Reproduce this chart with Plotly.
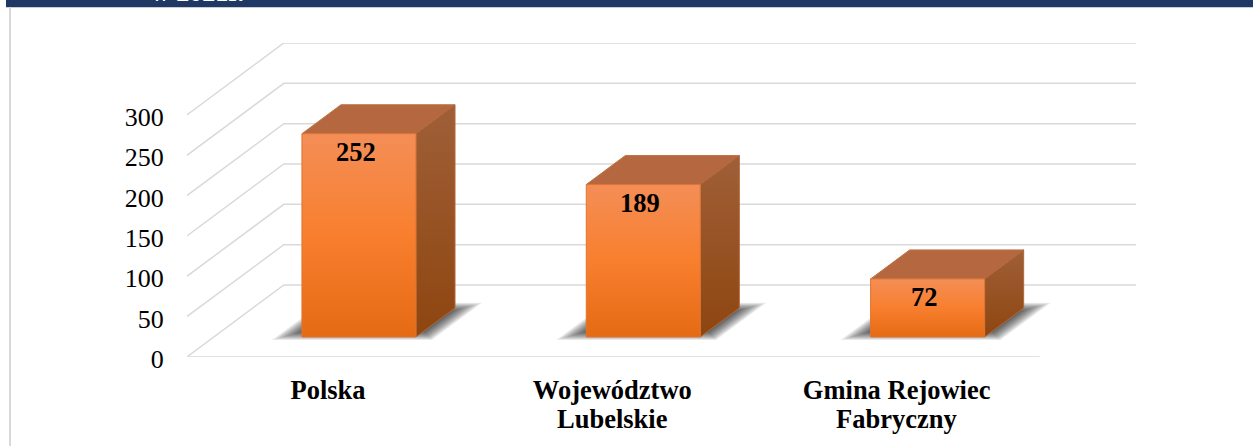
import plotly.graph_objects as go

category_first_lines = ["Polska", "Województwo", "Gmina Rejowiec"]
category_second_lines = ["", "Lubelskie", "Fabryczny"]
values = [252, 189, 72]
tick_values = [0, 50, 100, 150, 200, 250, 300]

W, H = 1253, 446
L, R, T, B = 187, 117, 43, 89
UX = 284.33          # px per category
UY = 314 / 389.2     # px per value unit
DX = 97 / UX         # full depth in x-units
DY = 72 / UY         # full depth in value units
FONT = "Liberation Serif"
GRID = "#D9D9D9"


def proj(cat, val, d, px=0.0):
    return cat + d * DX + px / UX, val + d * DY


def poly(points):
    xs, ys = [], []
    for p in points + points[:1]:
        x, y = proj(*p)
        xs.append(x)
        ys.append(y)
    return xs, ys


fig = go.Figure()

# walls / gridlines
for v in tick_values:
    x0, y0 = proj(-0.5, v, 0)
    x1, y1 = proj(-0.5, v, 1)
    x2, y2 = proj(2.5, v, 1)
    fig.add_trace(go.Scatter(x=[x0, x1, x2], y=[y0, y1, y2], mode="lines", cliponaxis=False,
                             line=dict(color=GRID, width=1.5), hoverinfo="skip", showlegend=False))
x0, y0 = proj(-0.5, 0, 0)
x1, y1 = proj(2.5, 0, 0)
fig.add_trace(go.Scatter(x=[x0, x1], y=[y0, y1], mode="lines", cliponaxis=False,
                         line=dict(color=GRID, width=1.5), hoverinfo="skip", showlegend=False))

D0, D1 = 20 / 72, 49 / 72
BL, BR = -54, 60

for i, v in enumerate(values):
    # blurred floor shadow
    n = 16
    for k in range(n):
        ins = k * 1.7
        dins = k * 0.75 / 72
        xs, ys = poly([
            (i, 0, 0.235 + dins, -80 + ins),
            (i, 0, 0.235 + dins, 80 - ins),
            (i, 0, 0.755 - dins, 80 - ins),
            (i, 0, 0.755 - dins, -80 + ins),
        ])
        fig.add_trace(go.Scatter(x=xs, y=ys, mode="lines", fill="toself", line=dict(width=0),
                                 fillcolor="rgba(0,0,0,0.075)", hoverinfo="skip", showlegend=False))
    # top face
    xs, ys = poly([(i, v, D0, BL), (i, v, D0, BR), (i, v, D1, BR), (i, v, D1, BL)])
    fig.add_trace(go.Scatter(x=xs, y=ys, mode="lines", fill="toself", fillcolor="#B5683F",
                             line=dict(color="#C07248", width=1), hoverinfo="skip", showlegend=False))
    # side face
    xs, ys = poly([(i, 0, D0, BR), (i, 0, D1, BR), (i, v, D1, BR), (i, v, D0, BR)])
    fig.add_trace(go.Scatter(x=xs, y=ys, mode="lines", fill="toself",
                             fillgradient=dict(type="vertical",
                                               colorscale=[[0, "#8E4610"], [1, "#A05F38"]]),
                             line=dict(color="#B0683A", width=1), hoverinfo="skip", showlegend=False))
    # front face
    xs, ys = poly([(i, 0, D0, BL), (i, 0, D0, BR), (i, v, D0, BR), (i, v, D0, BL)])
    fig.add_trace(go.Scatter(x=xs, y=ys, mode="lines", fill="toself",
                             fillgradient=dict(type="vertical",
                                               colorscale=[[0, "#E56A14"], [0.5, "#F87F2E"], [1, "#F48E57"]]),
                             line=dict(color="#DD7434", width=1), hoverinfo="skip", showlegend=False))
    tx, ty = proj(i, v, D0, 0)
    fig.add_annotation(x=tx, y=ty, text=f"<b>{v}</b>", showarrow=False, yshift=-18.5, yanchor="middle",
                       xanchor="center", font=dict(family=FONT, size=26.5, color="#000000"))

for i, line in enumerate(category_second_lines):
    if line:
        fig.add_annotation(x=i, y=0, text=f"<b>{line}</b>", showarrow=False, yshift=-62, xshift=-1,
                           yanchor="middle", xanchor="center",
                           font=dict(family=FONT, size=26.5, color="#000000"))


# header strip and left rule, placed in page fractions of the plot area
def pfx(px):
    return (px - L) / (W - L - R)


def pfy(py):
    return 1 - (py - T) / (H - T - B)


fig.add_shape(type="rect", xref="paper", yref="paper", x0=pfx(6), x1=pfx(W), y0=pfy(0), y1=pfy(7.3),
              fillcolor="#1F3864", line_width=0, layer="below")
fig.add_shape(type="line", xref="paper", yref="paper", x0=pfx(10), x1=pfx(10), y0=pfy(7), y1=pfy(H),
              line=dict(color=GRID, width=2), layer="below")
fig.add_annotation(xref="paper", yref="paper", x=pfx(149), y=pfy(4), text="<b>w 2021r.</b>", showarrow=False,
                   xanchor="left", yanchor="bottom", yshift=-5,
                   font=dict(family=FONT, size=26, color="#FFFFFF"))

x_lo = (L - 329) / UX
x_hi = (W - R - 329) / UX
fig.update_layout(
    width=W, height=H, autosize=False,
    margin=dict(l=L, r=R, t=T, b=B, pad=0),
    paper_bgcolor="#FFFFFF", plot_bgcolor="rgba(0,0,0,0)", showlegend=False,
    xaxis=dict(range=[x_lo, x_hi], tickmode="array", tickvals=[i - 1 / UX for i in range(3)],
               ticktext=[f"<b>{c}</b>" for c in category_first_lines], automargin=False,
               showgrid=False, zeroline=False, showline=False, ticks="outside", ticklen=9,
               tickcolor="rgba(0,0,0,0)", tickfont=dict(family=FONT, size=26.5, color="#000000"), fixedrange=True),
    yaxis=dict(range=[0, 300 + DY], tickmode="array", tickvals=tick_values, showgrid=False, zeroline=False,
               showline=False, ticks="outside", ticklen=17, tickcolor="rgba(0,0,0,0)", automargin=False,
               ticklabelshift=2,
               tickfont=dict(family=FONT, size=26, color="#000000"), fixedrange=True),
)

fig.write_html("out.html", config={"displayModeBar": False},
               post_script="document.body.style.margin='0';document.documentElement.style.overflow='hidden';")
